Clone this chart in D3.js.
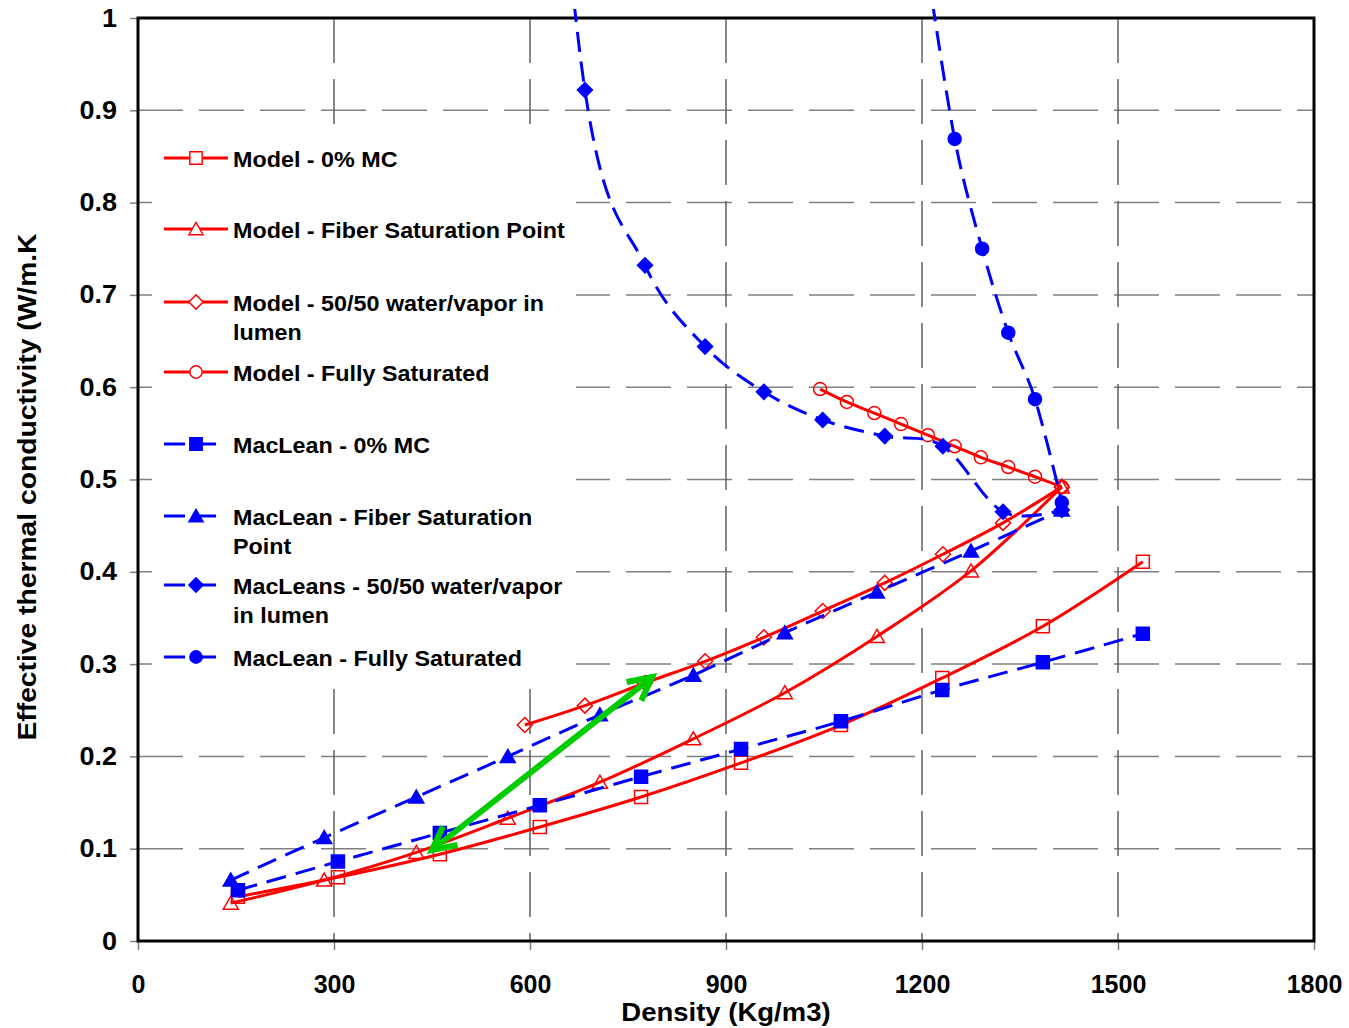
<!DOCTYPE html>
<html>
<head>
<meta charset="utf-8">
<script src="https://cdn.jsdelivr.net/npm/d3@7"></script>
<style>
body { margin: 0; background: #fff; }
svg text { font-family: Arial, "Liberation Sans", sans-serif; font-weight: bold; fill: #000; }
</style>
</head>
<body>
<svg id="chart" width="1349" height="1028"></svg>
<script>
// values (density in kg/m3, conductivity in W/m.K)
var densDry = [153, 306, 462, 615, 770, 923, 1076, 1231, 1385, 1538];
var modelDry = [0.048, 0.069, 0.094, 0.1235, 0.156, 0.193, 0.234, 0.285, 0.341, 0.411];
var macDry = [0.055, 0.086, 0.117, 0.147, 0.178, 0.208, 0.238, 0.272, 0.302, 0.333];

var densFsp = [142, 285, 426, 566, 707, 850, 990, 1131, 1275, 1414];
var modelFsp = [0.041, 0.066, 0.096, 0.133, 0.172, 0.219, 0.269, 0.330, 0.401, 0.492];
var macFsp = [0.066, 0.112, 0.156, 0.200, 0.245, 0.288, 0.334, 0.378, 0.4225, 0.467];

var densHalf = [592, 684, 776, 868, 958, 1048, 1143, 1232, 1324, 1414];
var modelHalf = [0.234, 0.255, 0.2795, 0.303, 0.329, 0.3575, 0.388, 0.419, 0.453, 0.492];
var macHalf = [1.6, 0.922, 0.732, 0.644, 0.595, 0.5645, 0.547, 0.536, 0.465, 0.467];

var densSat = [1044, 1085, 1127, 1168, 1209, 1250, 1290, 1332, 1373, 1414];
var modelSat = [0.598, 0.584, 0.572, 0.560, 0.548, 0.536, 0.524, 0.5135, 0.503, 0.492];
var densMacSat = [1209, 1250, 1292, 1332, 1373, 1414];
var macSat = [1.05, 0.869, 0.750, 0.659, 0.587, 0.475];

var xTicks = [0, 300, 600, 900, 1200, 1500, 1800];
var yTicks = [0, 0.1, 0.2, 0.3, 0.4, 0.5, 0.6, 0.7, 0.8, 0.9, 1];

// green double arrow (density, conductivity)
var arrowEnds = [[450, 0.0986], [787, 0.286]];

var series = [
    {label: ["Model - 0% MC"], x: densDry, y: modelDry, color: "#ff0000", dash: false, marker: "square", filled: false},
    {label: ["Model - Fiber Saturation Point"], x: densFsp, y: modelFsp, color: "#ff0000", dash: false, marker: "triangle", filled: false},
    {label: ["Model - 50/50 water/vapor in", "lumen"], x: densHalf, y: modelHalf, color: "#ff0000", dash: false, marker: "diamond", filled: false},
    {label: ["Model - Fully Saturated"], x: densSat, y: modelSat, color: "#ff0000", dash: false, marker: "circle", filled: false},
    {label: ["MacLean - 0% MC"], x: densDry, y: macDry, color: "#0000ff", dash: true, marker: "square", filled: true},
    {label: ["MacLean - Fiber Saturation", "Point"], x: densFsp, y: macFsp, color: "#0000ff", dash: true, marker: "triangle", filled: true},
    {label: ["MacLeans - 50/50 water/vapor", "in lumen"], x: densHalf, y: macHalf, color: "#0000ff", dash: true, marker: "diamond", filled: true},
    {label: ["MacLean - Fully Saturated"], x: densMacSat, y: macSat, color: "#0000ff", dash: true, marker: "circle", filled: true}
];

var svg = d3.select("#chart");
var plotL = 138, plotR = 1314, plotT = 18, plotB = 941;

var x = d3.scaleLinear().domain([0, 1800]).range([plotL, plotR]);
var y = d3.scaleLinear().domain([0, 1]).range([plotB, plotT]);

function stretch(sel, k) {
    sel.each(function () {
        var w = this.getComputedTextLength();
        d3.select(this).attr("textLength", w * k).attr("lengthAdjust", "spacingAndGlyphs");
    });
}

function markerPath(type) {
    if (type == "square") return "M-6.5,-6.5h13v13h-13Z";
    if (type == "triangle") return "M0,-7L7.5,6L-7.5,6Z";
    if (type == "diamond") return "M0,-7.5L7.5,0L0,7.5L-7.5,0Z";
    return d3.arc()({innerRadius: 0, outerRadius: 6.5, startAngle: 0, endAngle: 2 * Math.PI});
}

// grid
svg.append("g")
    .selectAll("line")
    .data(yTicks.slice(1, -1))
    .join("line")
    .attr("x1", plotL).attr("x2", plotR)
    .attr("y1", function (d) { return y(d); })
    .attr("y2", function (d) { return y(d); })
    .attr("stroke", "#808080")
    .attr("stroke-width", 1.5)
    .attr("stroke-dasharray", "45,16");

svg.append("g")
    .selectAll("line")
    .data(xTicks.slice(1, -1))
    .join("line")
    .attr("x1", function (d) { return x(d); })
    .attr("x2", function (d) { return x(d); })
    .attr("y1", plotT).attr("y2", plotB)
    .attr("stroke", "#606060")
    .attr("stroke-width", 1.5)
    .attr("stroke-dasharray", "45,16");

// axes
var yAxis = svg.append("g")
    .attr("transform", "translate(" + plotL + ",0)")
    .call(d3.axisLeft(y).tickValues(yTicks).tickSize(8).tickPadding(13).tickFormat(d3.format(".1~f")));
var xAxis = svg.append("g")
    .attr("transform", "translate(0," + plotB + ")")
    .call(d3.axisBottom(x).tickValues(xTicks).tickSize(9).tickPadding(25).tickFormat(d3.format("d")));

[yAxis, xAxis].forEach(function (g) {
    g.select(".domain").remove();
    g.attr("font-family", null).attr("font-size", 25);
    g.selectAll(".tick line").attr("stroke", "#808080").attr("stroke-width", 1.5);
});
yAxis.selectAll(".tick text").call(stretch, 1.08);

// frame
svg.append("rect")
    .attr("x", plotL).attr("y", plotT)
    .attr("width", plotR - plotL).attr("height", plotB - plotT)
    .attr("fill", "none")
    .attr("stroke", "#000")
    .attr("stroke-width", 3);

// legend box hides the grid behind it
var legend = svg.append("g");
legend.append("rect")
    .attr("x", 152).attr("y", 125)
    .attr("width", 424).attr("height", 558)
    .attr("fill", "#fff");

var legendRowY = [158, 229, 302, 372, 444, 516, 585, 657];

series.forEach(function (s, i) {
    var ly = legendRowY[i];
    var row = legend.append("g");
    row.append("line")
        .attr("x1", 164).attr("x2", s.dash ? 216 : 228)
        .attr("y1", ly).attr("y2", ly)
        .attr("stroke", s.color)
        .attr("stroke-width", 3)
        .attr("stroke-dasharray", s.dash ? "21,10" : null);
    row.append("path")
        .attr("d", markerPath(s.marker))
        .attr("transform", "translate(196," + ly + ") scale(0.95)")
        .attr("fill", s.filled ? s.color : "#fff")
        .attr("stroke", s.color)
        .attr("stroke-width", 1.5);
    s.label.forEach(function (t, j) {
        row.append("text")
            .attr("x", 233)
            .attr("y", ly + 9 + j * 29)
            .attr("font-size", 22)
            .text(t)
            .call(stretch, 1.06);
    });
});

// series
svg.append("defs").append("clipPath")
    .attr("id", "clip")
    .append("rect")
    .attr("x", plotL).attr("y", 9)
    .attr("width", plotR - plotL).attr("height", plotB - 9);

var plot = svg.append("g").attr("clip-path", "url(#clip)");

var line = d3.line()
    .x(function (d) { return x(d[0]); })
    .y(function (d) { return y(d[1]); })
    .curve(d3.curveCardinal.tension(0));

series.forEach(function (s) {
    var pts = s.x.map(function (v, i) { return [v, s.y[i]]; });
    plot.append("path")
        .datum(pts)
        .attr("d", line)
        .attr("fill", "none")
        .attr("stroke", s.color)
        .attr("stroke-width", 3)
        .attr("stroke-dasharray", s.dash ? "20,10" : null);
    plot.append("g")
        .selectAll("path")
        .data(pts.filter(function (p) { return p[1] <= 1; }))
        .join("path")
        .attr("d", markerPath(s.marker))
        .attr("transform", function (p) { return "translate(" + x(p[0]) + "," + y(p[1]) + ")"; })
        .attr("fill", s.filled ? s.color : "none")
        .attr("stroke", s.color)
        .attr("stroke-width", 1.5);
});

// green arrow
var a = [x(arrowEnds[0][0]), y(arrowEnds[0][1])];
var b = [x(arrowEnds[1][0]), y(arrowEnds[1][1])];
var arrow = svg.append("g")
    .attr("stroke", "#00cc00")
    .attr("stroke-width", 6)
    .attr("fill", "none")
    .attr("stroke-linejoin", "miter");
arrow.append("line")
    .attr("x1", a[0]).attr("y1", a[1])
    .attr("x2", b[0]).attr("y2", b[1]);

function head(tip, from) {
    var ang = Math.atan2(from[1] - tip[1], from[0] - tip[0]);
    var len = 26, spread = 27 * Math.PI / 180;
    var p1 = [tip[0] + len * Math.cos(ang - spread), tip[1] + len * Math.sin(ang - spread)];
    var p2 = [tip[0] + len * Math.cos(ang + spread), tip[1] + len * Math.sin(ang + spread)];
    arrow.append("path").attr("d", "M" + p1 + "L" + tip + "L" + p2);
}
head(a, b);
head(b, a);

// axis titles
svg.append("text")
    .attr("x", (plotL + plotR) / 2)
    .attr("y", 1021)
    .attr("text-anchor", "middle")
    .attr("font-size", 25)
    .text("Density (Kg/m3)")
    .call(stretch, 1.1);

svg.append("text")
    .attr("transform", "translate(36,487) rotate(-90)")
    .attr("text-anchor", "middle")
    .attr("font-size", 25)
    .text("Effective thermal conductivity (W/m.K")
    .call(stretch, 1.13);
</script>
</body>
</html>
